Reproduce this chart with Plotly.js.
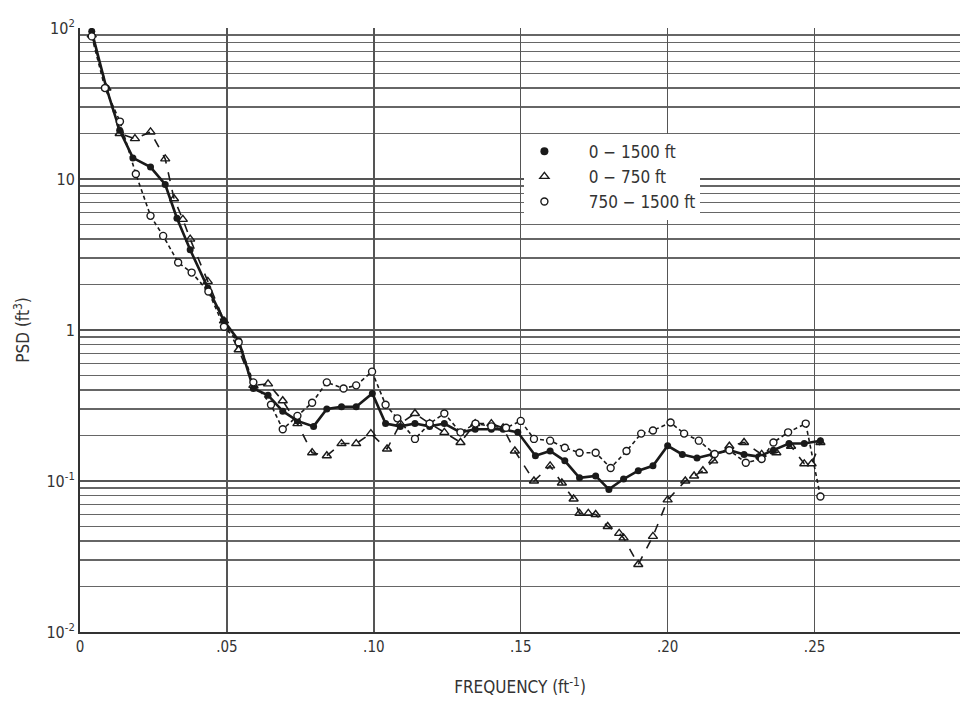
<!DOCTYPE html>
<html>
<head>
<meta charset="utf-8">
<script src="https://cdn.plot.ly/plotly-3.0.1.min.js"></script>
<style>
html,body{margin:0;padding:0;background:#fff;}
#chart{width:962px;height:706px;}
</style>
</head>
<body>
<div id="chart"></div>
<script>
// ---- Data ----
const seriesNames = ["0 \u2212 1500 ft", "0 \u2212 750 ft", "750 \u2212 1500 ft"];

// 0 - 1500 ft (filled circles, solid)
const freqA = [0.004, 0.009, 0.0135, 0.018, 0.024, 0.029, 0.033, 0.0375, 0.0435, 0.049, 0.054, 0.059, 0.064, 0.069, 0.074, 0.0795, 0.084, 0.089, 0.094, 0.0995, 0.104, 0.109, 0.114, 0.119, 0.124, 0.1295, 0.1345, 0.14, 0.144, 0.149, 0.155, 0.16, 0.165, 0.17, 0.1755, 0.18, 0.185, 0.19, 0.195, 0.2, 0.205, 0.21, 0.2155, 0.221, 0.226, 0.231, 0.236, 0.2413, 0.2465, 0.252];
const psdA  = [95, 40, 21, 13.8, 12, 9.2, 5.5, 3.4, 1.9, 1.15, 0.85, 0.41, 0.37, 0.29, 0.25, 0.23, 0.30, 0.31, 0.31, 0.38, 0.24, 0.23, 0.24, 0.23, 0.24, 0.21, 0.22, 0.22, 0.22, 0.21, 0.147, 0.158, 0.136, 0.105, 0.108, 0.088, 0.103, 0.117, 0.126, 0.171, 0.15, 0.142, 0.15, 0.16, 0.15, 0.145, 0.16, 0.177, 0.177, 0.185];

// 0 - 750 ft (open triangles, dashed)
const freqB = [0.004, 0.009, 0.0135, 0.0187, 0.024, 0.029, 0.032, 0.035, 0.0375, 0.0435, 0.049, 0.054, 0.059, 0.064, 0.069, 0.074, 0.079, 0.084, 0.089, 0.094, 0.099, 0.1045, 0.109, 0.114, 0.119, 0.124, 0.1295, 0.1345, 0.14, 0.144, 0.148, 0.1545, 0.16, 0.164, 0.168, 0.170, 0.173, 0.1755, 0.1796, 0.1835, 0.185, 0.19, 0.195, 0.2, 0.206, 0.209, 0.212, 0.2155, 0.221, 0.226, 0.232, 0.237, 0.242, 0.2465, 0.249, 0.252];
const psdB  = [90, 40, 20, 18.5, 20.5, 13.6, 7.4, 5.4, 4.0, 2.1, 1.15, 0.74, 0.43, 0.44, 0.34, 0.24, 0.154, 0.147, 0.177, 0.177, 0.206, 0.163, 0.24, 0.28, 0.24, 0.21, 0.18, 0.24, 0.24, 0.225, 0.158, 0.10, 0.126, 0.097, 0.076, 0.061, 0.061, 0.060, 0.050, 0.045, 0.042, 0.028, 0.043, 0.075, 0.1, 0.108, 0.117, 0.136, 0.17, 0.18, 0.15, 0.154, 0.17, 0.13, 0.13, 0.18];

// 750 - 1500 ft (open circles, dashed)
const freqC = [0.004, 0.0085, 0.0136, 0.019, 0.024, 0.0283, 0.0334, 0.038, 0.0437, 0.049, 0.054, 0.059, 0.065, 0.069, 0.074, 0.079, 0.084, 0.0897, 0.094, 0.0994, 0.104, 0.108, 0.114, 0.119, 0.124, 0.1295, 0.1346, 0.14, 0.145, 0.15, 0.1545, 0.16, 0.165, 0.170, 0.1755, 0.1806, 0.186, 0.191, 0.195, 0.201, 0.2056, 0.2106, 0.216, 0.221, 0.2266, 0.232, 0.236, 0.241, 0.247, 0.252];
const psdC  = [88, 40, 24, 10.8, 5.7, 4.2, 2.8, 2.4, 1.8, 1.05, 0.83, 0.45, 0.32, 0.22, 0.27, 0.33, 0.45, 0.41, 0.43, 0.53, 0.32, 0.26, 0.19, 0.24, 0.28, 0.21, 0.24, 0.23, 0.225, 0.25, 0.19, 0.185, 0.166, 0.154, 0.154, 0.122, 0.158, 0.206, 0.216, 0.244, 0.206, 0.185, 0.151, 0.16, 0.132, 0.14, 0.18, 0.21, 0.24, 0.079];

// Axis ticks
const xTickVals = [0, 0.05, 0.10, 0.15, 0.20, 0.25];
const xTickText = ["0", ".05", ".10", ".15", ".20", ".25"];
const yTickVals = [0.01, 0.1, 1, 10, 100];
const yTickText = ["10<sup>-2</sup>", "10<sup>-1</sup>", "1", "10", "10<sup>2</sup>"];
const yMinorMults = [2, 3, 4, 5, 6, 7, 8, 9];

// log-paper minor grid values (2..9 within each decade)
const yMinorVals = [];
yTickVals.slice(0, -1).forEach(d => yMinorMults.forEach(m => yMinorVals.push(d * m)));

const FONT = "'DejaVu Sans Condensed', 'Liberation Sans Narrow', 'DejaVu Sans', sans-serif";
const INK = "#1a1a1a";
const TXT = "#333";
const pad = "\u00a0\u00a0\u00a0\u00a0\u00a0";

const traces = [
  {x: freqA, y: psdA, mode: "lines+markers", name: seriesNames[0], showlegend: false,
   line: {color: INK, width: 2.6},
   marker: {symbol: "circle", size: 7, color: INK}},
  {x: freqB, y: psdB, mode: "lines+markers", name: seriesNames[1], showlegend: false,
   line: {color: INK, width: 1.6, dash: "dash"},
   marker: {symbol: "triangle-up-open", size: 8, color: INK, line: {width: 1.4}}},
  {x: freqC, y: psdC, mode: "lines+markers", name: seriesNames[2], showlegend: false,
   line: {color: INK, width: 1.6, dash: "4px,3px"},
   marker: {symbol: "circle", size: 7, color: "#fff", line: {color: INK, width: 1.4}}},
  // legend entries (marker only, as in the reference)
  {x: [null], y: [null], mode: "markers", name: pad + seriesNames[0], showlegend: true,
   marker: {symbol: "circle", size: 8, color: INK}},
  {x: [null], y: [null], mode: "markers", name: pad + seriesNames[1], showlegend: true,
   marker: {symbol: "triangle-up-open", size: 8, color: INK, line: {width: 1.4}}},
  {x: [null], y: [null], mode: "markers", name: pad + seriesNames[2], showlegend: true,
   marker: {symbol: "circle", size: 7, color: "#fff", line: {color: INK, width: 1.4}}}
];

const layout = {
  width: 962, height: 706,
  margin: {l: 80, r: 2, t: 28, b: 74},
  paper_bgcolor: "#fff",
  plot_bgcolor: "#fff",
  font: {family: FONT, color: TXT, size: 15},
  showlegend: true,
  legend: {
    x: 0.505, y: 0.825, xanchor: "left", yanchor: "top",
    bgcolor: "rgba(255,255,255,1)",
    font: {family: FONT, size: 17, color: TXT},
    tracegroupgap: 0, itemwidth: 30
  },
  xaxis: {
    range: [0, 0.2995],
    tickmode: "array", tickvals: xTickVals, ticktext: xTickText,
    showgrid: true, gridcolor: "#555", gridwidth: 1.5,
    zeroline: false,
    showline: true, linecolor: "#333", linewidth: 2,
    ticks: "", ticklen: 0,
    tickfont: {family: FONT, size: 15, color: TXT},
    title: {text: "FREQUENCY (ft<sup>-1</sup>)", font: {family: FONT, size: 17, color: TXT}, standoff: 26}
  },
  yaxis: {
    type: "log",
    range: [-2, 2],
    tickmode: "array", tickvals: yTickVals, ticktext: yTickText,
    showgrid: true, gridcolor: "#555", gridwidth: 1.5,
    minor: {tickmode: "array", tickvals: yMinorVals, showgrid: true, gridcolor: "#666", gridwidth: 1.3, ticks: ""},
    zeroline: false,
    showline: true, linecolor: "#333", linewidth: 2,
    ticks: "", ticklen: 0,
    tickfont: {family: FONT, size: 16, color: TXT},
    title: {text: "PSD (ft<sup>3</sup>)", font: {family: FONT, size: 17, color: TXT}, standoff: 12}
  }
};

Plotly.newPlot("chart", traces, layout, {displayModeBar: false, staticPlot: true});
</script>
</body>
</html>
